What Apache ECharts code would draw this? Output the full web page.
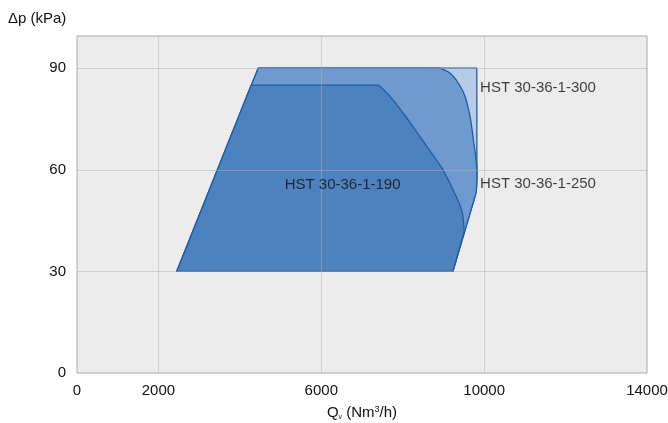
<!DOCTYPE html>
<html>
<head>
<meta charset="utf-8">
<script src="https://cdn.jsdelivr.net/npm/echarts@6/dist/echarts.min.js"></script>
<style>
html,body{margin:0;padding:0;background:#fff;}
#c{width:668px;height:423px;}
</style>
</head>
<body>
<div id="c"></div>
<script>
// ---- data ----
const xTickLabels = [0, 2000, 6000, 10000, 14000];
const yTickLabels = [0, 30, 60, 90];
const xGridValues = [2000, 6000, 10000];
const yGridValues = [30, 60, 90];

const hst300 = [[2450,30],[4450,90],[9820,90],[9822,62.7],[9824,58.2],[9806,53.8],[9755,51.3],[9232,30]];
const hst250 = [[2450,30],[4450,90],[8910,90],[9166,88.5],[9369,85.5],[9534,81.5],[9657,75.5],[9738,68.7],[9804,62.7],[9822,58.2],[9806,53.8],[9755,51.3],[9232,30]];
const hst190 = [[2450,30],[4280,85],[7410,85],[7693,81.6],[8020,76.6],[8434,69.6],[8839,62.7],[9001,59.7],[9247,53.8],[9453,47.8],[9509,41.9],[9232,30]];
// index ranges of each outline that are drawn as a smooth curve
const curve300 = [3, 6];
const curve250 = [2, 11];
const curve190 = [2, 10];

const labelNames = ['HST 30-36-1-300', 'HST 30-36-1-250', 'HST 30-36-1-190'];
const labelX = [9900, 9900, 5100];
const labelY = [84.2, 55.8, 55.6];

// ---- chart ----
const FONT = 'Liberation Sans, Arial, Helvetica, sans-serif';
const FS = 15;
const chart = echarts.init(document.getElementById('c'));

// smooth (Catmull-Rom) rendering of the pixel outline between curve indices
function smoothOutline(px, range) {
  const out = [];
  const a = range[0], b = range[1];
  for (let i = 0; i < px.length; i++) {
    out.push(px[i]);
    if (i >= a && i < b) {
      const p0 = px[Math.max(i - 1, a)], p1 = px[i], p2 = px[i + 1], p3 = px[Math.min(i + 2, b)];
      const n = 10;
      for (let k = 1; k < n; k++) {
        const t = k / n, t2 = t * t, t3 = t2 * t;
        const f = (c0, c1, c2, c3) => 0.5 * ((2 * c1) + (-c0 + c2) * t + (2 * c0 - 5 * c1 + 4 * c2 - c3) * t2 + (-c0 + 3 * c1 - 3 * c2 + c3) * t3);
        out.push([f(p0[0], p1[0], p2[0], p3[0]), f(p0[1], p1[1], p2[1], p3[1])]);
      }
    }
  }
  return out;
}

function polygonSeries(name, data, range, fill, z) {
  return {
    name: name,
    type: 'custom',
    z: z,
    silent: true,
    data: data,
    encode: {x: 0, y: 1},
    renderItem: function (params, api) {
      if (params.dataIndex !== 0) return null;
      const pts = smoothOutline(data.map(p => api.coord(p)), range);
      return {
        type: 'polygon',
        shape: {points: pts},
        style: {fill: fill, stroke: '#1c5ea8', lineWidth: 1.3, lineJoin: 'round'}
      };
    }
  };
}

const gridLineData = xGridValues.map(v => ({xAxis: v})).concat(yGridValues.map(v => ({yAxis: v})));

chart.setOption({
  animation: false,
  textStyle: {fontFamily: FONT},
  grid: {
    left: 77, right: 21, top: 36, bottom: 50,
    outerBoundsMode: 'none', containLabel: false,
    show: true, backgroundColor: '#ececec', borderColor: '#a9a9a9', borderWidth: 1
  },
  graphic: [{
    type: 'text', left: 8, top: 11,
    style: {text: 'Δp (kPa)', font: FS + 'px ' + FONT, fill: '#111'}
  }],
  xAxis: {
    type: 'value', min: 0, max: 14000, interval: 2000,
    axisLine: {show: false}, axisTick: {show: false}, splitLine: {show: false},
    axisLabel: {
      color: '#111', fontSize: FS, margin: 10, fontFamily: FONT,
      formatter: v => xTickLabels.indexOf(v) >= 0 ? String(v) : ''
    },
    name: '{q|Q}{sub|v}{q| (Nm}{sup|3}{q|/h)}',
    nameLocation: 'middle', nameGap: 31,
    nameTextStyle: {
      rich: {
        q: {fontSize: FS, color: '#111', fontFamily: FONT},
        sub: {fontSize: 7, color: '#111', fontFamily: FONT, padding: [10, 0, 0, 0]},
        sup: {fontSize: 9, color: '#111', fontFamily: FONT, padding: [0, 0, 6, 0]}
      }
    }
  },
  yAxis: {
    type: 'value', min: 0, max: 99.5, interval: 30,
    axisLine: {show: false}, axisTick: {show: false}, splitLine: {show: false},
    axisLabel: {
      color: '#111', fontSize: FS, margin: 11, fontFamily: FONT,
      formatter: v => yTickLabels.indexOf(v) >= 0 ? String(v) : ''
    }
  },
  series: [
    polygonSeries('HST 30-36-1-300', hst300, curve300, '#b6cbe8', 2),
    polygonSeries('HST 30-36-1-250', hst250, curve250, '#6f9acf', 3),
    polygonSeries('HST 30-36-1-190', hst190, curve190, '#4e82bf', 4),
    {
      type: 'line', z: 6, data: [], silent: true,
      markLine: {
        silent: true, symbol: ['none', 'none'], animation: false,
        label: {show: false},
        lineStyle: {color: 'rgba(175,175,175,0.5)', width: 1, type: 'solid'},
        data: gridLineData
      }
    },
    {
      type: 'scatter', z: 8, silent: true, symbolSize: 0,
      data: labelNames.map((n, i) => [labelX[i], labelY[i], n]),
      label: {
        show: true, position: 'right', distance: 0,
        formatter: p => p.data[2],
        color: '#111', fontSize: FS, fontFamily: FONT
      }
    }
  ]
});
</script>
</body>
</html>
